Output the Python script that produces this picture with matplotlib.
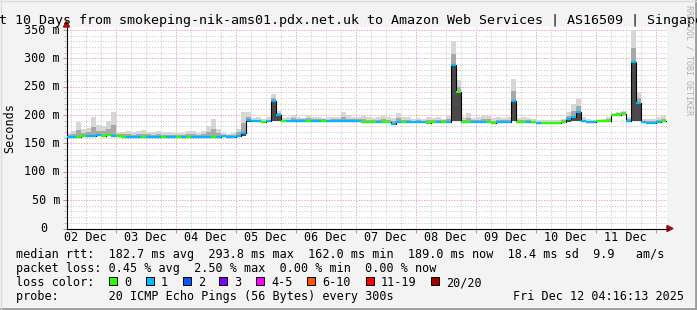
# SmokePing style latency chart (last 10 days) redrawn with matplotlib

import numpy as np
import matplotlib
matplotlib.use("Agg")
import matplotlib.pyplot as plt
import matplotlib.transforms as mtransforms
from matplotlib.patches import Polygon, Rectangle
from matplotlib.lines import Line2D

# ---- data (2 hour bins, starting Dec 02 04:00) ----
median = [
    162, 162, 162, 163, 163, 164, 165, 164, 165, 164,
    163, 162, 162, 162, 162, 162, 162, 162, 162, 162,
    162, 162, 162, 162, 162, 162, 162, 162, 162, 162,
    162, 163, 162, 162, 164, 169, 191, 189, 189, 188,
    189, 225, 201, 189, 189, 190, 190, 190, 190, 190,
    190, 190, 189, 190, 190, 190, 189, 190, 189, 188,
    188, 188, 188, 188, 187, 185, 187, 188, 187, 187,
    187, 187, 186, 187, 187, 188, 188, 288, 240, 188,
    187, 187, 187, 187, 187, 186, 187, 188, 187, 225,
    188, 188, 187, 187, 186, 186, 186, 186, 186, 188,
    193, 196, 205, 189, 188, 188, 189, 190, 190, 200,
    201, 202, 190, 293.8, 222, 187, 186, 186, 187, 189,
]
loss = [
    1, 1, 0, 0, 1, 1, 1, 0, 0, 1,
    0, 0, 1, 1, 1, 0, 1, 1, 1, 0,
    1, 1, 0, 1, 0, 1, 1, 1, 1, 0,
    1, 1, 1, 1, 1, 1, 1, 1, 1, 0,
    1, 1, 1, 0, 1, 1, 1, 1, 0, 1,
    1, 0, 1, 1, 1, 1, 1, 1, 1, 0,
    0, 0, 1, 0, 0, 1, 1, 0, 1, 1,
    1, 1, 0, 0, 1, 0, 1, 1, 0, 0,
    0, 1, 1, 1, 0, 0, 1, 1, 1, 1,
    0, 0, 1, 0, 1, 0, 0, 0, 0, 0,
    1, 1, 1, 1, 1, 1, 0, 0, 0, 0,
    0, 0, 1, 1, 1, 1, 1, 1, 1, 0,
]
smoke_top = [
    168, 172, 187, 175, 178, 196, 182, 181, 190, 205,
    170, 171, 172, 170, 172, 174, 171, 170, 172, 170,
    170, 169, 168, 168, 172, 172, 168, 172, 181, 193,
    176, 168, 167, 168, 176, 206, 205, 195, 196, 193,
    196, 238, 207, 195, 196, 200, 196, 195, 201, 196,
    197, 195, 196, 197, 196, 205, 200, 196, 197, 199,
    196, 195, 196, 198, 196, 195, 203, 196, 197, 194,
    195, 194, 196, 195, 197, 194, 198, 330, 262, 196,
    204, 195, 196, 200, 199, 195, 196, 195, 196, 263,
    195, 196, 195, 194, 192, 191, 191, 192, 192, 194,
    205, 220, 228, 196, 193, 192, 192, 193, 196, 204,
    206, 208, 197, 350, 240, 194, 193, 193, 196, 198,
]
smoke_low = [
    161, 161, 161, 162, 162, 163, 163, 163, 163, 163,
    162, 161, 161, 161, 161, 161, 161, 161, 161, 161,
    161, 161, 161, 161, 161, 161, 161, 161, 161, 161,
    161, 162, 161, 161, 162, 164, 188, 188, 188, 187,
    188, 189, 189, 188, 188, 189, 189, 189, 189, 189,
    189, 189, 188, 189, 189, 189, 188, 189, 188, 187,
    187, 187, 187, 187, 186, 184, 186, 187, 186, 186,
    186, 186, 185, 186, 186, 187, 187, 190, 189, 187,
    186, 186, 186, 186, 186, 185, 186, 187, 186, 189,
    187, 187, 186, 186, 185, 185, 185, 185, 185, 187,
    188, 189, 190, 188, 187, 187, 188, 189, 189, 198,
    199, 200, 189, 190, 189, 186, 185, 185, 186, 188,
]
day_labels = ["02 Dec", "03 Dec", "04 Dec", "05 Dec", "06 Dec",
              "07 Dec", "08 Dec", "09 Dec", "10 Dec", "11 Dec"]
loss_names = ["0", "1", "2", "3", "4-5", "6-10", "11-19", "20/20"]
loss_colors = ["#26ff00", "#00b8ff", "#0059ff", "#7e00ff",
               "#ff00ff", "#ff5500", "#ff0000", "#a10000"]

title = ("Last 10 Days from smokeping-nik-ams01.pdx.net.uk to "
         "Amazon Web Services | AS16509 | Singapore")
stats_rtt = ("median rtt:  182.7 ms avg  293.8 ms max  162.0 ms min  "
             "189.0 ms now  18.4 ms sd  9.9   am/s")
stats_loss = "packet loss: 0.45 % avg  2.50 % max  0.00 % min  0.00 % now"
probe_text = "probe:       20 ICMP Echo Pings (56 Bytes) every 300s"
stamp = "Fri Dec 12 04:16:13 2025"

# hours since Dec 02 00:00
bin_hours = 2
start = np.arange(len(median)) * bin_hours + 4
med = np.array(median, dtype=float)
top = np.array(smoke_top, dtype=float)
low = np.array(smoke_low, dtype=float)

W, H = 697, 310
MONO = "DejaVu Sans Mono"
plt.rcParams['font.family'] = MONO


def fx(x):
    return x / W


def fy(y):
    return 1 - y / H


fig = plt.figure(figsize=(W / 100, H / 100), dpi=100, facecolor="#f3f3f3")
ymax = 355
px_per_ms = 0.567
ax = fig.add_axes([fx(66.5), fy(228.5), 600 / W, ymax * px_per_ms / H])
ax.set_facecolor("white")
ax.set_xlim(4.27, 244.27)
ax.set_ylim(0, ymax)

# grid
for h in range(6, 245, 6):
    major = h % 24 == 0
    ax.axvline(h, color="#e9a8a8" if major else "#d2d2d2", lw=0.7,
               ls=(0, (1.4, 1.4)), zorder=0.5)
for v in range(10, 351, 10):
    major = v % 50 == 0
    ax.axhline(v, color="#e9a8a8" if major else "#d2d2d2", lw=0.7,
               ls=(0, (1.4, 1.4)), zorder=0.5)

# smoke
ax.bar(start, top - med, bottom=med, width=bin_hours, align="edge",
       color="#d6d6d6", linewidth=0, zorder=1)
mid = 0.45 * (top - med)
ax.bar(start, mid, bottom=med, width=bin_hours, align="edge",
       color="#a8a8a8", linewidth=0, zorder=1.1)
ax.bar(start, med - low, bottom=low, width=bin_hours, align="edge",
       color="#4a4a4a", linewidth=0, zorder=1.2)

# median line: black steps, loss coloured segments
ax.step(np.append(start, start[-1] + bin_hours), np.append(med, med[-1]),
        where="post", color="black", lw=0.8, zorder=2)
ax.hlines(med, start, start + bin_hours,
          colors=[loss_colors[l] for l in loss], lw=1.6, zorder=3)

# axes styling
for s in ("top", "right"):
    ax.spines[s].set_visible(False)
for s in ("left", "bottom"):
    ax.spines[s].set_linewidth(0.8)
ax.set_xticks(np.arange(24, 245, 24))
ax.set_xticks(np.arange(6, 245, 6), minor=True)
ax.set_yticks(np.arange(0, 351, 50))
ax.set_yticks(np.arange(0, 351, 10), minor=True)
ax.tick_params(which="major", length=3, width=0.7, color="#c88",
               labelbottom=False, labelleft=False)
ax.tick_params(which="minor", length=2, width=0.7, color="#bbb")

# y labels
ylab_tr = mtransforms.blended_transform_factory(fig.transFigure, ax.transData)
for v in range(0, 351, 50):
    if v == 0:
        ax.text(fx(47.5), v, "0", transform=ylab_tr, ha="right", va="center",
                fontsize=8.5, family=MONO)
    else:
        ax.text(fx(60), v, f"{v} m", transform=ylab_tr, ha="right",
                va="center", fontsize=8.5, family=MONO)

# date labels at noon
xlab_tr = mtransforms.blended_transform_factory(ax.transData, fig.transFigure)
for i, lab in enumerate(day_labels):
    ax.text(12 + 24 * i, fy(241), lab, transform=xlab_tr, ha="center",
            va="baseline", fontsize=8.5, family=MONO, clip_on=False)

# axis arrows
arrow_c = "#a01010"
fig.add_artist(Line2D([fx(666), fx(668)], [fy(228.5), fy(228.5)],
                      color="black", lw=0.8))
fig.add_artist(Polygon([(fx(673), fy(228.5)), (fx(667), fy(225.5)),
                        (fx(667), fy(231.5))], closed=True, color=arrow_c))
fig.add_artist(Polygon([(fx(66.5), fy(21)), (fx(63.5), fy(27)),
                        (fx(69.5), fy(27))], closed=True, color=arrow_c))

# titles and side texts
fig.text(fx(347), fy(24), title, ha="center", va="baseline",
         fontsize=9.6, family=MONO)
fig.text(fx(10), fy(128), "Seconds", rotation=90, ha="center", va="center",
         fontsize=8.5, family=MONO)
fig.text(fx(689), fy(5), "RRDTOOL / TOBI OETIKER", rotation=270,
         ha="center", va="top", fontsize=6, color="#b0b0b0", family=MONO)

# legend
fig.text(fx(16), fy(258), stats_rtt, ha="left", va="baseline",
         fontsize=8.5, family=MONO)
fig.text(fx(16), fy(272), stats_loss, ha="left", va="baseline",
         fontsize=8.5, family=MONO)
fig.text(fx(16), fy(286), "loss color:", ha="left", va="baseline",
         fontsize=8.5, family=MONO)
box_x = [108.7, 145.7, 182.7, 219.3, 256.3, 307.3, 365.7, 430.7]
for bx, name, col in zip(box_x, loss_names, loss_colors):
    fig.add_artist(Rectangle((fx(bx), fy(285)), 8 / W, 8 / H,
                             facecolor=col, edgecolor="black", lw=0.7))
    fig.text(fx(bx + 15.3), fy(286), name, ha="left", va="baseline",
             fontsize=8.5, family=MONO)
fig.text(fx(16), fy(300), probe_text, ha="left", va="baseline",
         fontsize=8.5, family=MONO)
fig.text(fx(513), fy(300), stamp, ha="left", va="baseline",
         fontsize=8.5, family=MONO)

# canvas border
fig.add_artist(Line2D([0, 1], [fy(308.5), fy(308.5)], color="#9c9c9c", lw=2))
fig.add_artist(Line2D([fx(695.5), fx(695.5)], [0, 1], color="#9c9c9c", lw=2))
fig.add_artist(Line2D([0, 1], [fy(0.5), fy(0.5)], color="#dcdcdc", lw=1))
fig.add_artist(Line2D([fx(0.5), fx(0.5)], [0, 1], color="#dcdcdc", lw=1))

fig.savefig("out.png", dpi=100, facecolor=fig.get_facecolor())
